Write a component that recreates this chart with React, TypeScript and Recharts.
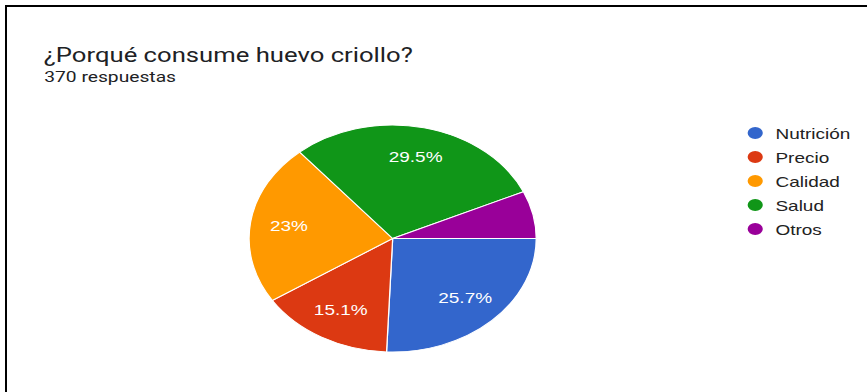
import { PieChart, Pie, Cell, Legend } from "recharts";

// the source screenshot is stretched horizontally, so the chart is drawn narrow and scaled on x
const STRETCH = 1.265;
const FULL_W = 867;
const FULL_H = 392;
const CHART_W = Math.round(FULL_W / STRETCH);

const title = "¿Porqué consume huevo criollo?";
const subtitle = "370 respuestas";
const categories = ["Nutrición", "Precio", "Calidad", "Salud", "Otros"];
const responses = [95, 56, 85, 109, 25];
const sliceColors = ["#3366cc", "#dc3912", "#ff9900", "#109618", "#990099"];

const chartFont = "'Liberation Sans', Arial, sans-serif";
const RADIAN = Math.PI / 180;

function formatPercent(p: number): string {
  return `${parseFloat((p * 100).toFixed(1))}%`;
}

function renderSliceLabel(props: any) {
  const { cx, cy, midAngle, outerRadius, percent } = props;
  // google hides the text on thin slices
  if (percent < 0.1) return null;
  const r = outerRadius * 0.73;
  const x = cx + r * Math.cos(-midAngle * RADIAN);
  const y = cy + r * Math.sin(-midAngle * RADIAN);
  return (
    <text x={x} y={y} fill="#ffffff" textAnchor="middle" dominantBaseline="central" fontSize={15} fontFamily={chartFont}>
      {formatPercent(percent)}
    </text>
  );
}

function LegendList() {
  return (
    <div style={{ fontFamily: chartFont, fontSize: 15, color: "#222222" }}>
      {categories.map((name, i) => (
        <div key={name} style={{ display: "flex", alignItems: "center", height: 24 }}>
          <span style={{ display: "inline-block", width: 12, height: 12, borderRadius: "50%", background: sliceColors[i], marginRight: 10 }} />
          <span>{name}</span>
        </div>
      ))}
    </div>
  );
}

export default function App() {
  const data = categories.map((name, i) => ({ name, value: responses[i] }));

  return (
    <div style={{ position: "absolute", left: 0, top: 0, width: FULL_W, height: FULL_H, overflow: "hidden", background: "#ffffff" }}>
      <div style={{ position: "absolute", left: 0, top: 0, width: CHART_W, height: FULL_H, transform: `scaleX(${STRETCH})`, transformOrigin: "0 0" }}>
        <div style={{ position: "absolute", left: 34.5, top: 44.5, fontFamily: "Roboto, sans-serif", fontSize: 20.3, lineHeight: "20px", color: "#202124", whiteSpace: "nowrap" }}>
          {title}
        </div>
        <div style={{ position: "absolute", left: 35, top: 70, fontFamily: "Roboto, sans-serif", fontSize: 15.2, lineHeight: "15px", color: "#202124", whiteSpace: "nowrap" }}>
          {subtitle}
        </div>
        <PieChart width={CHART_W} height={FULL_H} margin={{ top: 0, right: 0, bottom: 0, left: 0 }}>
          <Pie
            data={data}
            dataKey="value"
            nameKey="name"
            cx={310.4}
            cy={238.5}
            outerRadius={113.5}
            startAngle={0}
            endAngle={-360}
            stroke="#ffffff"
            strokeWidth={1}
            labelLine={false}
            label={renderSliceLabel}
            isAnimationActive={false}
          >
            {data.map((d, i) => (
              <Cell key={d.name} fill={sliceColors[i]} />
            ))}
          </Pie>
          <Legend layout="vertical" align="right" verticalAlign="top" content={() => <LegendList />} wrapperStyle={{ left: 591, top: 121, width: 90 }} />
        </PieChart>
      </div>
      <div style={{ position: "absolute", left: 5, top: 5, width: FULL_W - 5, height: 2, background: "#000000" }} />
      <div style={{ position: "absolute", left: 5, top: 5, width: 2, height: FULL_H - 5, background: "#000000" }} />
    </div>
  );
}
